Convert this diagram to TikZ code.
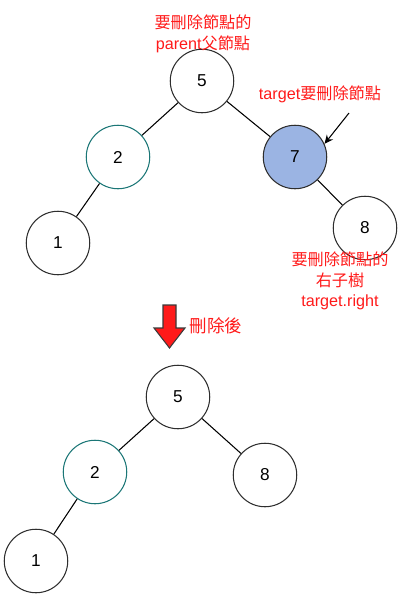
\documentclass[tikz,border=0pt]{standalone}
\usepackage{fontspec}
\setmainfont{Liberation Sans}
\newfontfamily\cjk{Noto Sans CJK TC}
\usepackage{tikz}
\usetikzlibrary{arrows.meta}
\definecolor{nodeline}{HTML}{2E2E2E}
\definecolor{tealline}{HTML}{1B7676}
\definecolor{targetfill}{HTML}{9BB4E3}
\definecolor{notered}{HTML}{FF1A1A}
\definecolor{arrowline}{HTML}{3A3A3A}

\begin{document}
\begin{tikzpicture}[x=0.02cm, y=-0.02cm,
  bstnode/.style={circle, draw=nodeline, line width=0.6pt, minimum size=1.27cm, inner sep=0pt, font=\fontsize{9.8}{11}\selectfont},
  note/.style={text=notered, align=center, inner sep=0pt, font=\fontsize{9.2}{11.6}\selectfont},
  link/.style={line width=0.6pt, draw=black}]
  \useasboundingbox (0,0) rectangle (406,603);

  % Before delete
  \node[bstnode] (p5) at (202, 81) {5};
  \node[bstnode, draw=tealline] (p2) at (118, 157) {2};
  \node[bstnode, fill=targetfill] (t7) at (295, 157) {7};
  \node[bstnode] (p1) at (58, 243) {1};
  \node[bstnode] (r8) at (365, 228) {8};
  \draw[link] (p5) -- (p2);
  \draw[link] (p5) -- (t7);
  \draw[link] (p2) -- (p1);
  \draw[link] (t7) -- (r8);

  % Notes
  \node[note] (parentnote) at (203, 34) {{\cjk 要刪除節點的}\\parent{\cjk 父節點}};
  \node[note] (targetnote) at (320, 94) {target{\cjk 要刪除節點}};
  \node[note] (rightnote) at (340, 281) {{\cjk 要刪除節點的}\\{\cjk 右子樹}\\target.right};
  \coordinate (pointer) at (349, 113);
  \draw[link, -{Stealth[length=5pt, width=4.5pt]}] (pointer) -- (t7.24);

  % Down arrow
  \draw[fill=notered, draw=arrowline, line width=0.6pt] (163, 305) -- (176, 305) -- (176, 328) -- (185, 328)
    -- (169.5, 348) -- (154, 328) -- (163, 328) -- cycle;
  \node[note, font=\fontsize{10}{12}\selectfont] (afternote) at (216, 326) {\cjk 刪除後};

  % After delete
  \node[bstnode] (q5) at (178, 397) {5};
  \node[bstnode, draw=tealline] (q2) at (95, 472) {2};
  \node[bstnode] (q8) at (265, 475) {8};
  \node[bstnode] (q1) at (36, 561) {1};
  \draw[link] (q5) -- (q2);
  \draw[link] (q5) -- (q8);
  \draw[link] (q2) -- (q1);
\end{tikzpicture}
\end{document}
